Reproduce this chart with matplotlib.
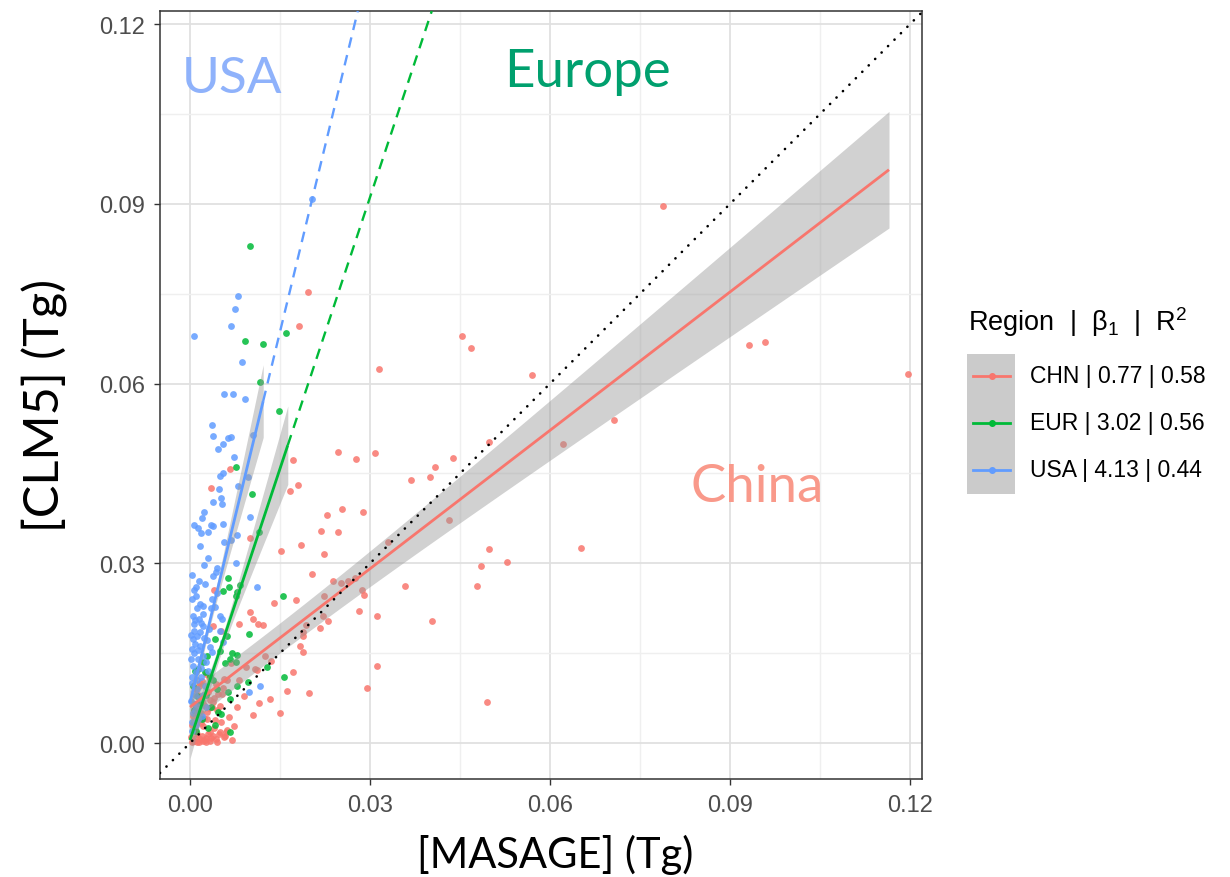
import numpy as np
import matplotlib
matplotlib.use("Agg")
import matplotlib.pyplot as plt
from matplotlib.patches import Rectangle
from matplotlib.lines import Line2D

# ---------------- data ----------------
regions = ["CHN", "EUR", "USA"]
beta1 = [0.77, 3.02, 4.13]
r2 = [0.58, 0.56, 0.44]
intercepts = [0.006, 0.0005, 0.0067]
fit_xmin = [0.0, 0.0, 0.0]
fit_xmax = [0.1165, 0.0163, 0.0122]
ci_base = [0.0025, 0.0012, 0.0010]
ci_growth = [0.09, 0.57, 0.65]
ci_center = [0.012, 0.005, 0.003]
colors = ["#F8766D", "#00BA38", "#619CFF"]

x_ticks = [0.00, 0.03, 0.06, 0.09, 0.12]
y_ticks = [0.00, 0.03, 0.06, 0.09, 0.12]
tick_labels = ["0.00", "0.03", "0.06", "0.09", "0.12"]

chn_x = [0.0788, 0.0197, 0.0182, 0.0453, 0.0468, 0.0932, 0.0958, 0.1197, 0.0315, 0.0570,
         0.0707, 0.0622, 0.0172, 0.0247, 0.0277, 0.0308, 0.0180, 0.0167, 0.0368, 0.0400,
         0.0408, 0.0438, 0.0498, 0.0228, 0.0253, 0.0288, 0.0218, 0.0247, 0.0185, 0.0152,
         0.0223, 0.0330, 0.0432, 0.0498, 0.0528, 0.0485, 0.0478, 0.0652, 0.0203, 0.0238,
         0.0177, 0.0140, 0.0252, 0.0263, 0.0275, 0.0287, 0.0290, 0.0282, 0.0312, 0.0358,
         0.0403, 0.0223, 0.0222, 0.0230, 0.0217, 0.0193, 0.0188, 0.0188, 0.0183, 0.0188,
         0.0172, 0.0312, 0.0162, 0.0198, 0.0295, 0.0495, 0.0150, 0.0133, 0.0115, 0.0105,
         0.0135, 0.0108, 0.0100, 0.0105, 0.0113, 0.0122, 0.0067, 0.0035, 0.0100, 0.0040,
         0.0082, 0.0052, 0.0038, 0.0068, 0.0093, 0.0112, 0.0082, 0.0020, 0.0053, 0.0065,
         0.0073, 0.0060, 0.0033, 0.0005, 0.0010, 0.0015, 0.0020, 0.0008, 0.0025, 0.0030,
         0.0035, 0.0040, 0.0012, 0.0018, 0.0028, 0.0045, 0.0005, 0.0020, 0.0030, 0.0015,
         0.0040, 0.0050, 0.0055, 0.0022, 0.0002, 0.0042, 0.0052, 0.0070, 0.0058, 0.0045,
         0.0032, 0.0008, 0.0090, 0.0125, 0.0062, 0.0078, 0.0026, 0.0012, 0.0048, 0.0036,
         0.0003, 0.0007, 0.0011, 0.0016, 0.0021, 0.0027, 0.0033, 0.0038, 0.0044, 0.0050,
         0.0056, 0.0062, 0.0004, 0.0009, 0.0014, 0.0019, 0.0024, 0.0029, 0.0034, 0.0039,
         0.0006, 0.0013, 0.0017, 0.0023, 0.0031, 0.0043, 0.0010, 0.0026, 0.0047, 0.0057]
chn_y = [0.0896, 0.0753, 0.0696, 0.0679, 0.0659, 0.0664, 0.0669, 0.0616, 0.0624, 0.0614,
         0.0539, 0.0499, 0.0472, 0.0486, 0.0474, 0.0484, 0.0431, 0.0421, 0.0439, 0.0444,
         0.0461, 0.0476, 0.0502, 0.0380, 0.0390, 0.0385, 0.0354, 0.0352, 0.0330, 0.0320,
         0.0315, 0.0335, 0.0372, 0.0324, 0.0302, 0.0295, 0.0262, 0.0325, 0.0282, 0.0270,
         0.0239, 0.0234, 0.0267, 0.0270, 0.0275, 0.0255, 0.0247, 0.0220, 0.0212, 0.0262,
         0.0204, 0.0245, 0.0212, 0.0204, 0.0192, 0.0197, 0.0179, 0.0185, 0.0162, 0.0152,
         0.0118, 0.0128, 0.0087, 0.0083, 0.0092, 0.0068, 0.0050, 0.0073, 0.0067, 0.0047,
         0.0137, 0.0124, 0.0219, 0.0207, 0.0199, 0.0197, 0.0457, 0.0426, 0.0342, 0.0255,
         0.0199, 0.0187, 0.0195, 0.0134, 0.0127, 0.0122, 0.0105, 0.0103, 0.0082, 0.0043,
         0.0028, 0.0018, 0.0018, 0.0003, 0.0008, 0.0002, 0.0012, 0.0020, 0.0005, 0.0015,
         0.0008, 0.0025, 0.0035, 0.0050, 0.0040, 0.0055, 0.0045, 0.0070, 0.0085, 0.0095,
         0.0075, 0.0062, 0.0092, 0.0028, 0.0010, 0.0038, 0.0035, 0.0005, 0.0012, 0.0002,
         0.0110, 0.0065, 0.0078, 0.0145, 0.0105, 0.0060, 0.0002, 0.0015, 0.0015, 0.0060,
         0.0001, 0.0004, 0.0001, 0.0006, 0.0003, 0.0009, 0.0004, 0.0012, 0.0007, 0.0018,
         0.0010, 0.0022, 0.0030, 0.0026, 0.0048, 0.0033, 0.0064, 0.0052, 0.0072, 0.0068,
         0.0056, 0.0080, 0.0100, 0.0042, 0.0058, 0.0098, 0.0090, 0.0115, 0.0082, 0.0107]

usa_x = [0.0203, 0.0080, 0.0075, 0.0068, 0.0007, 0.0087, 0.0057, 0.0072, 0.0092, 0.0037,
         0.0038, 0.0063, 0.0068, 0.0055, 0.0047, 0.0073, 0.0105, 0.0050, 0.0055, 0.0048,
         0.0080, 0.0097, 0.0038, 0.0052, 0.0053, 0.0023, 0.0020, 0.0007, 0.0013, 0.0018,
         0.0030, 0.0035, 0.0038, 0.0055, 0.0100, 0.0017, 0.0057, 0.0068, 0.0078, 0.0030,
         0.0023, 0.0045, 0.0038, 0.0043, 0.0077, 0.0112, 0.0017, 0.0022, 0.0005, 0.0008,
         0.0015, 0.0022, 0.0037, 0.0042, 0.0050, 0.0053, 0.0007, 0.0012, 0.0017, 0.0022,
         0.0005, 0.0003, 0.0017, 0.0022, 0.0013, 0.0005, 0.0010, 0.0117, 0.0098, 0.0050,
         0.0055, 0.0037, 0.0003, 0.0008, 0.0015, 0.0005, 0.0020, 0.0010, 0.0003, 0.0025,
         0.0030, 0.0012, 0.0006, 0.0010, 0.0003, 0.0015, 0.0025, 0.0032, 0.0028, 0.0008,
         0.0018, 0.0027, 0.0004, 0.0035, 0.0012, 0.0045, 0.0002, 0.0006, 0.0009, 0.0014,
         0.0019, 0.0004, 0.0011, 0.0016, 0.0002, 0.0008, 0.0013, 0.0021, 0.0026, 0.0001,
         0.0007, 0.0018, 0.0024, 0.0033, 0.0003, 0.0010]
usa_y = [0.0908, 0.0746, 0.0724, 0.0696, 0.0679, 0.0636, 0.0582, 0.0582, 0.0574, 0.0531,
         0.0512, 0.0509, 0.0511, 0.0499, 0.0491, 0.0477, 0.0514, 0.0446, 0.0451, 0.0424,
         0.0429, 0.0444, 0.0402, 0.0409, 0.0399, 0.0386, 0.0376, 0.0364, 0.0359, 0.0350,
         0.0352, 0.0364, 0.0362, 0.0365, 0.0377, 0.0329, 0.0335, 0.0339, 0.0347, 0.0309,
         0.0297, 0.0292, 0.0279, 0.0285, 0.0300, 0.0260, 0.0232, 0.0229, 0.0212, 0.0205,
         0.0207, 0.0215, 0.0240, 0.0227, 0.0212, 0.0207, 0.0187, 0.0179, 0.0185, 0.0195,
         0.0174, 0.0157, 0.0162, 0.0145, 0.0140, 0.0129, 0.0118, 0.0095, 0.0085, 0.0187,
         0.0169, 0.0152, 0.0100, 0.0080, 0.0060, 0.0050, 0.0045, 0.0030, 0.0020, 0.0095,
         0.0120, 0.0105, 0.0255, 0.0245, 0.0280, 0.0270, 0.0265, 0.0190, 0.0172, 0.0065,
         0.0110, 0.0135, 0.0035, 0.0225, 0.0225, 0.0250, 0.0140, 0.0150, 0.0165, 0.0155,
         0.0125, 0.0110, 0.0090, 0.0075, 0.0070, 0.0055, 0.0040, 0.0080, 0.0060, 0.0180,
         0.0198, 0.0200, 0.0175, 0.0160, 0.0240, 0.0260]

eur_x = [0.0100, 0.0092, 0.0122, 0.0160, 0.0117, 0.0148, 0.0077, 0.0103, 0.0115, 0.0063,
         0.0065, 0.0055, 0.0083, 0.0077, 0.0078, 0.0155, 0.0098, 0.0042, 0.0062, 0.0050,
         0.0070, 0.0078, 0.0067, 0.0058, 0.0077, 0.0028, 0.0022, 0.0025, 0.0013, 0.0128,
         0.0157, 0.0097, 0.0078, 0.0063, 0.0067, 0.0047, 0.0052, 0.0067, 0.0005, 0.0012,
         0.0020, 0.0035, 0.0010, 0.0030, 0.0045, 0.0038, 0.0008, 0.0016, 0.0027, 0.0041,
         0.0006, 0.0033]
eur_y = [0.0830, 0.0671, 0.0666, 0.0684, 0.0602, 0.0554, 0.0461, 0.0416, 0.0352, 0.0275,
         0.0260, 0.0254, 0.0264, 0.0245, 0.0252, 0.0245, 0.0182, 0.0174, 0.0179, 0.0154,
         0.0150, 0.0147, 0.0140, 0.0134, 0.0135, 0.0145, 0.0135, 0.0118, 0.0124, 0.0127,
         0.0110, 0.0102, 0.0095, 0.0085, 0.0073, 0.0052, 0.0048, 0.0018, 0.0095, 0.0078,
         0.0040, 0.0060, 0.0020, 0.0025, 0.0090, 0.0105, 0.0120, 0.0065, 0.0080, 0.0030,
         0.0055, 0.0112]

points = {"CHN": (chn_x, chn_y), "EUR": (eur_x, eur_y), "USA": (usa_x, usa_y)}

labels_text = ["USA", "Europe", "China"]
labels_pos = [(0.0070, 0.1110), (0.0662, 0.1121), (0.0945, 0.0429)]
labels_color = ["#8fb2fb", "#00a06e", "#f9998a"]

# ---------------- style ----------------
plt.rcParams['font.family'] = ['Liberation Sans', 'DejaVu Sans']
plt.rcParams['mathtext.fontset'] = 'custom'
plt.rcParams['mathtext.rm'] = 'Liberation Sans'
plt.rcParams['mathtext.it'] = 'Liberation Sans:italic'

W, H = 1230, 878
fig = plt.figure(figsize=(W / 100, H / 100), dpi=100)
ax = fig.add_axes([160 / W, 1 - 780 / H, (922 - 160) / W, (780 - 12) / H])

xlo, xhi = -0.005, 0.122
ylo, yhi = -0.006, 0.1222
ax.set_xlim(xlo, xhi)
ax.set_ylim(ylo, yhi)

ax.set_xticks(x_ticks)
ax.set_xticklabels(tick_labels)
ax.set_yticks(y_ticks)
ax.set_yticklabels(tick_labels)
minor = [0.015, 0.045, 0.075, 0.105]
ax.set_xticks(minor, minor=True)
ax.set_yticks(minor, minor=True)
ax.grid(which='major', color='#e0e0e0', lw=1.3, zorder=0)
ax.grid(which='minor', color='#efefef', lw=1.0, zorder=0)
ax.set_axisbelow(True)
ax.tick_params(which='major', labelsize=17, labelcolor='#4d4d4d', length=4,
               width=1, color='#333333', pad=7)
ax.tick_params(which='minor', length=0)
for s in ax.spines.values():
    s.set_color('#333333')
    s.set_linewidth(1.1)

# identity line
ax.axline((0, 0), slope=1, color='black', lw=1.9,
          linestyle=(0, (0.05, 3.4)), dash_capstyle='round', zorder=5)

# points
for reg, c in zip(regions, colors):
    px, py = points[reg]
    ax.scatter(px, py, s=24, color=c, alpha=0.85, lw=0, zorder=2)

# regression bands, lines and dashed extensions
for i, reg in enumerate(regions):
    m, b = beta1[i], intercepts[i]
    xs = np.linspace(fit_xmin[i], fit_xmax[i], 200)
    ys = b + m * xs
    h = np.sqrt(ci_base[i] ** 2 + (ci_growth[i] * (xs - ci_center[i])) ** 2)
    ax.fill_between(xs, ys - h, ys + h, color='#999999', alpha=0.45, lw=0, zorder=3)
    ax.plot(xs, ys, color=colors[i], lw=2.0, zorder=4, solid_capstyle='butt')
    if reg != "CHN":
        xe = (yhi - b) / m
        xd = np.array([fit_xmax[i], xe])
        ax.plot(xd, b + m * xd, color=colors[i], lw=1.7,
                linestyle=(0, (4.5, 3.2)), zorder=4)

# region annotations
label_sizes = [37, 38, 38]
for t, (tx, ty), c, fs in zip(labels_text, labels_pos, labels_color, label_sizes):
    ax.text(tx, ty, t, color=c, fontsize=fs, family=['Lato', 'DejaVu Sans'],
            ha='center', va='center', zorder=6)

# axis titles
fig.text(555 / W, 1 - 855 / H, "[MASAGE] (Tg)", fontsize=30,
         family=['Lato', 'DejaVu Sans'], ha='center', va='center')
fig.text(45 / W, 1 - 405 / H, "[CLM5] (Tg)", fontsize=35, rotation=90,
         family=['Lato', 'DejaVu Sans'], ha='center', va='center')

# legend (manual)
fx = lambda p: p / W
fy = lambda p: 1 - p / H
fig.text(fx(968), fy(331), "Region  |  β$_1$  |  R$^2$", fontsize=19.5,
         ha='left', va='baseline', color='black')
fig.patches.append(Rectangle((fx(967), fy(495)), 48 / W, 140 / H,
                             transform=fig.transFigure, facecolor='#cbcbcb',
                             edgecolor='none'))
key_y = [377, 424, 471]
for i, reg in enumerate(regions):
    yk = fy(key_y[i])
    fig.lines.append(Line2D([fx(973), fx(1010)], [yk, yk], transform=fig.transFigure,
                            color=colors[i], lw=2.0))
    fig.lines.append(Line2D([fx(991.5)], [yk], transform=fig.transFigure,
                            color=colors[i], marker='o', markersize=4, lw=0))
    fig.text(fx(1030), yk, f"{reg} | {beta1[i]:.2f} | {r2[i]:.2f}", fontsize=16.5,
             ha='left', va='center', color='black')

fig.savefig("out.png", dpi=100)
